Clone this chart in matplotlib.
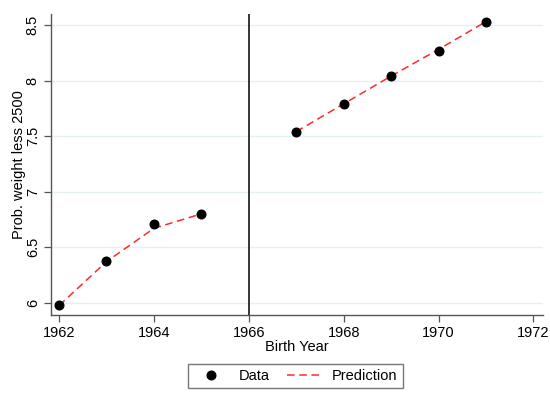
import matplotlib
matplotlib.use("Agg")
import matplotlib.pyplot as plt

plt.rcParams["font.family"] = ["Liberation Sans", "DejaVu Sans"]

# observed points and fitted values, before and after the 1966 cutoff
years_pre = [1962, 1963, 1964, 1965]
data_pre = [5.98, 6.375, 6.707, 6.797]
pred_pre = [5.975, 6.37, 6.67, 6.80]

years_post = [1967, 1968, 1969, 1970, 1971]
data_post = [7.538, 7.792, 8.041, 8.266, 8.53]
pred_post = [7.54, 7.79, 8.04, 8.28, 8.53]

cutoff = 1966
xticks = [1962, 1964, 1966, 1968, 1970, 1972]
yticks = [6, 6.5, 7, 7.5, 8, 8.5]
ytick_labels = ["6", "6.5", "7", "7.5", "8", "8.5"]

fs = 10.5

fig = plt.figure(figsize=(5.5, 4.08), dpi=100)
ax = fig.add_axes([0.0927, 0.228, 0.8943, 0.738])

for y in yticks:
    ax.axhline(y, color="#e6eff1", lw=1.0, zorder=0)

ax.axvline(cutoff, color="black", lw=1.1, zorder=1)

ax.plot(years_pre, pred_pre, color="#ff2a2a", ls=(0, (5, 3)), lw=1.1, zorder=2, label="Prediction")
ax.plot(years_post, pred_post, color="#ff2a2a", ls=(0, (5, 3)), lw=1.1, zorder=2)
ax.plot(years_pre, data_pre, "o", color="black", ms=6.2, zorder=3, label="Data")
ax.plot(years_post, data_post, "o", color="black", ms=6.2, zorder=3)

ax.set_xlim(1961.83, 1972.2)
ax.set_ylim(5.89, 8.6)
ax.set_xticks(xticks)
ax.set_yticks(yticks)
ax.set_yticklabels(ytick_labels, rotation=90, va="center")

for side in ["top", "right"]:
    ax.spines[side].set_visible(False)
for side in ["left", "bottom"]:
    ax.spines[side].set_color("#555555")
    ax.spines[side].set_linewidth(1.0)

ax.tick_params(axis="both", direction="out", length=5, width=0.9, color="#555555",
               labelsize=fs, pad=3)
ax.set_xlabel("Birth Year", fontsize=fs, labelpad=0)
ax.set_ylabel("Prob. weight less 2500", fontsize=fs, labelpad=0)

handles, labels = ax.get_legend_handles_labels()
leg = ax.legend(handles[::-1], labels[::-1], ncol=2, loc="upper center",
                bbox_to_anchor=(0.497, -0.137), frameon=True, fancybox=False,
                edgecolor="#555555", fontsize=fs, handlelength=2.5,
                handletextpad=0.6, columnspacing=1.2, borderpad=0.35)
leg.get_frame().set_linewidth(1.0)

fig.savefig("out.png", dpi=100)
